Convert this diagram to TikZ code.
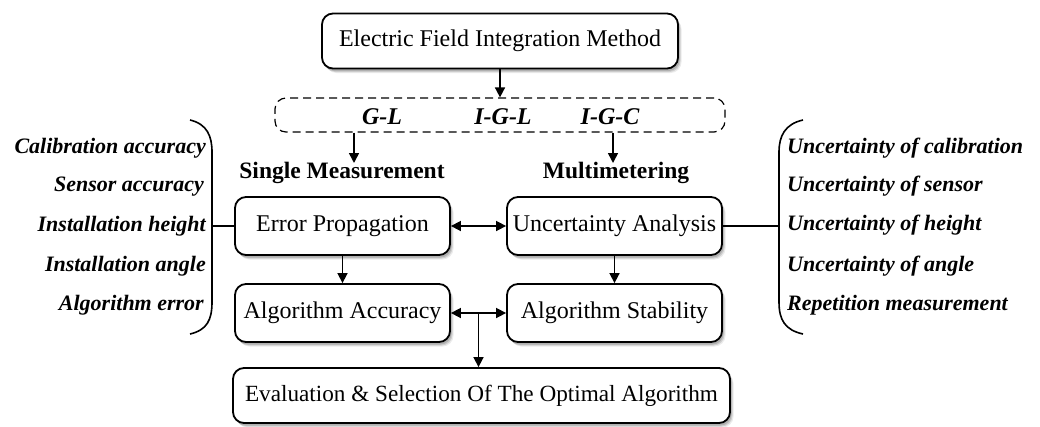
\documentclass[tikz,border=0pt]{standalone}
\usepackage{fontspec}
\setmainfont{Liberation Serif}
\usetikzlibrary{arrows.meta,shadows,calc}

\tikzset{
  x=1pt, y=-1pt,
  softshadow/.style={
    general shadow={shadow xshift=1.5pt, shadow yshift=-2.5pt, fill=black, opacity=0.15},
    general shadow={shadow xshift=2.5pt, shadow yshift=-3.5pt, fill=black, opacity=0.12},
    general shadow={shadow xshift=3.5pt, shadow yshift=-4.5pt, fill=black, opacity=0.08}
  },
  box/.style={draw, line width=1.8pt, rounded corners=11pt, fill=white,
    softshadow, align=center, inner sep=0pt,
    font=\fontsize{24}{29}\selectfont},
  methods/.style={draw, line width=1.2pt, dash pattern=on 8pt off 5pt,
    rounded corners=11pt, inner sep=0pt},
  head/.style={font=\fontsize{23.5}{28}\selectfont\bfseries},
  method/.style={font=\fontsize{24}{28}\selectfont\bfseries\itshape},
  factor/.style={font=\fontsize{22}{26}\selectfont\bfseries\itshape, inner sep=0pt},
  arr/.style={line width=1.6pt, -{Triangle[length=10pt,width=10pt]}},
  darr/.style={line width=1.6pt, {Triangle[length=10pt,width=10pt]}-{Triangle[length=10pt,width=10pt]}},
  link/.style={line width=1.6pt},
  brace/.style={line width=1.6pt}
}

\begin{document}
\begin{tikzpicture}
\useasboundingbox (0,0) rectangle (1040,426);

% main chain of boxes
\node[box, minimum width=356pt, minimum height=55pt] (efim) at (500,41) {Electric Field Integration Method};
\node[methods, minimum width=450pt, minimum height=34pt] (meth) at (500,115) {};
\node[method] (gl)  at (382,117) {G-L};
\node[method] (igl) at (503,117) {I-G-L};
\node[method] (igc) at (610,117) {I-G-C};

\node[head] (single) at (342,173) {Single Measurement};
\node[head] (multi)  at (616,173) {Multimetering};

\node[box, minimum width=215pt, minimum height=58pt] (err) at (342.5,226) {Error Propagation};
\node[box, minimum width=215pt, minimum height=58pt] (unc) at (614.5,226) {Uncertainty Analysis};
\node[box, minimum width=215pt, minimum height=58pt] (acc) at (342.5,313) {Algorithm Accuracy};
\node[box, minimum width=215pt, minimum height=58pt] (stab) at (614.5,313) {Algorithm Stability};
\node[box, minimum width=497pt, minimum height=55pt, font=\fontsize{23.2}{28}\selectfont] (eval) at (481.5,395.5) {Evaluation \& Selection Of The Optimal Algorithm};

% connectors
\coordinate (stop) at (354,163);
\coordinate (mtop) at (613,163);
\draw[arr] (efim.south) -- (meth.north);
\draw[arr] (meth.south -| stop) -- (stop);
\draw[arr] (meth.south -| mtop) -- (mtop);
\draw[darr] (err.east) -- (unc.west);
\draw[arr] (err.south) -- (acc.north);
\draw[arr] (unc.south) -- (stab.north);
\draw[darr] (acc.east) -- (stab.west);
\coordinate (junc) at ($(acc.east)!0.5!(stab.west)$);
\draw[arr] (junc) -- (junc |- eval.north);

% error sources on the left
\node[factor, anchor=east] (f1) at (206,148) {Calibration accuracy};
\node[factor, anchor=east] (f2) at (204,187) {Sensor accuracy};
\node[factor, anchor=east] (f3) at (206,226) {Installation height};
\node[factor, anchor=east] (f4) at (206,266) {Installation angle};
\node[factor, anchor=east] (f5) at (204,305) {Algorithm error};
\draw[brace] (190,120) .. controls (207,124) and (212,136) .. (212,152)
  -- (212,302) .. controls (212,320) and (207,330) .. (190,334);
\coordinate (lb) at (212,226);
\draw[link] (err.west) -- (lb);

% uncertainty sources on the right
\node[factor, anchor=west] (u1) at (787,148) {Uncertainty of calibration};
\node[factor, anchor=west] (u2) at (787,186) {Uncertainty of sensor};
\node[factor, anchor=west] (u3) at (787,225) {Uncertainty of height};
\node[factor, anchor=west] (u4) at (787,266) {Uncertainty of angle};
\node[factor, anchor=west] (u5) at (787,305) {Repetition measurement};
\draw[brace] (803,120) .. controls (785,124) and (779,136) .. (779,152)
  -- (779,302) .. controls (779,320) and (785,330) .. (803,334);
\coordinate (rb) at (779,226);
\draw[link] (unc.east) -- (rb);
\end{tikzpicture}
\end{document}
